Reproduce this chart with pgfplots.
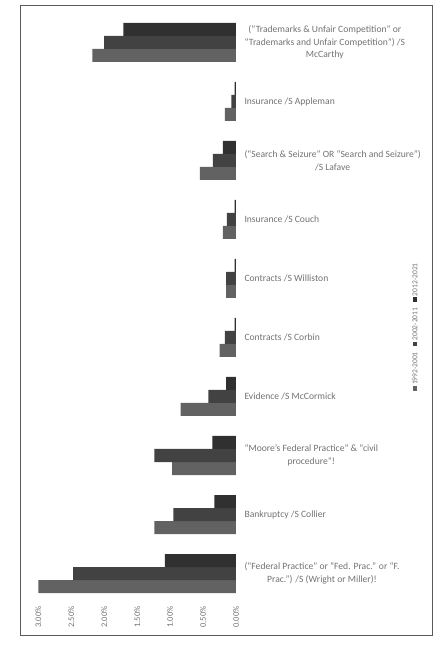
\documentclass[border=0pt]{standalone}
\usepackage{fontspec}
\setmainfont{Carlito}
\usepackage{pgfplots}
\pgfplotsset{compat=1.18}
\definecolor{sA}{HTML}{626262}
\definecolor{sB}{HTML}{424242}
\definecolor{sC}{HTML}{303030}
\definecolor{txt}{HTML}{727272}
\definecolor{frm}{HTML}{5A5A5A}
\begin{document}
\begin{tikzpicture}
\begin{axis}[name=ax,
  xbar=0pt, bar width=13pt,
  scale only axis, width=201pt, height=590pt,
  x dir=reverse, xmin=0, xmax=3.05,
  ymin=-0.5, ymax=9.5,
  ytick={0,...,9},
  yticklabels={
    {(“Federal Practice” or “Fed. Prac.” or “F.\\Prac.”) /S (Wright or Miller)!},
    {Bankruptcy /S Collier},
    {“Moore’s Federal Practice” \& “civil\\procedure”!},
    {Evidence /S McCormick},
    {Contracts /S Corbin},
    {Contracts /S Williston},
    {Insurance /S Couch},
    {(“Search \& Seizure” OR “Search and Seizure”)\\/S Lafave},
    {Insurance /S Appleman},
    {(“Trademarks \& Unfair Competition” or\\“Trademarks and Unfair Competition”) /S\\McCarthy}},
  yticklabel pos=right,
  yticklabel style={align=center, anchor=west, xshift=5pt, font=\fontsize{9.6}{12.5}\selectfont, text=txt},
  xtick={0,0.5,1,1.5,2,2.5,3},
  xticklabels={0.00\%,0.50\%,1.00\%,1.50\%,2.00\%,2.50\%,3.00\%},
  xticklabel style={rotate=90, anchor=east, font=\fontsize{8.5}{10}\selectfont, text=txt},
  axis line style={draw=none},
  major tick length=0pt,
]
\addplot[fill=sA, draw=none] coordinates {(3.00,0) (1.24,1) (0.97,2) (0.84,3) (0.25,4) (0.15,5) (0.20,6) (0.55,7) (0.17,8) (2.18,9)};
\addplot[fill=sB, draw=none] coordinates {(2.47,0) (0.95,1) (1.24,2) (0.42,3) (0.17,4) (0.15,5) (0.14,6) (0.35,7) (0.07,8) (2.00,9)};
\addplot[fill=sC, draw=none] coordinates {(1.08,0) (0.33,1) (0.36,2) (0.15,3) (0.02,4) (0.02,5) (0.02,6) (0.20,7) (0.02,8) (1.71,9)};
\end{axis}
\node[rotate=90, text=txt, font=\fontsize{7.5}{9}\selectfont, inner sep=0pt]
  at ([xshift=380pt,yshift=276pt]ax.south west)
  {\textcolor{sA}{\rule[0.3pt]{4.5pt}{4.5pt}}\,1992-2001\hspace{6pt}\textcolor{sB}{\rule[0.3pt]{4.5pt}{4.5pt}}\,2002-2011\hspace{6pt}\textcolor{sC}{\rule[0.3pt]{4.5pt}{4.5pt}}\,2012-2021};
\draw[frm, line width=0.9pt] (ax.south west) ++(-15pt,-32pt) rectangle ++(412pt,630pt);
\pgfresetboundingbox
\path (ax.south west) ++(-35pt,-42pt) rectangle ++(437pt,645pt);
\end{tikzpicture}
\end{document}
